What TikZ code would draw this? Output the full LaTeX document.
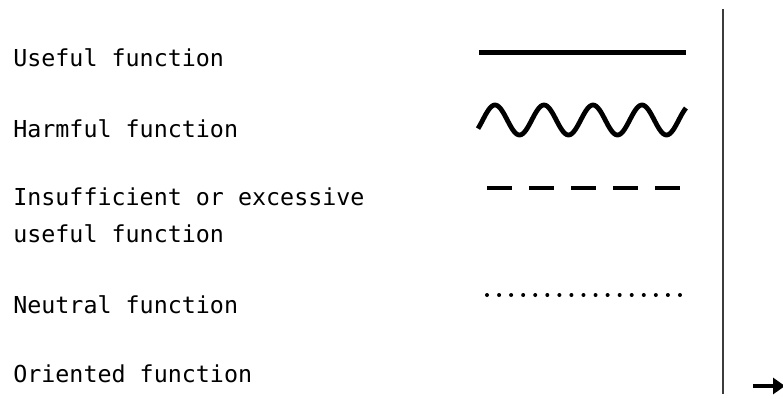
\documentclass[tikz,border=0pt]{standalone}
\usepackage{fontspec}
\setmonofont{DejaVu Sans Mono}
\usetikzlibrary{arrows.meta}
\definecolor{keyink}{HTML}{000000}
\definecolor{ruleink}{HTML}{3C3C3C}

\begin{document}
\begin{tikzpicture}[
  lab/.style={anchor=base west, inner sep=0pt, align=left,
              font=\fontsize{16.6}{26.3}\selectfont\ttfamily},
  useful/.style={draw=keyink, line width=0.125cm},
  harmful/.style={draw=keyink, line width=0.12cm, line join=round},
  lack/.style={draw=keyink, line width=0.12cm, dash pattern=on 0.625cm off 0.425cm},
  neutral/.style={fill=keyink},
  sep/.style={draw=ruleink, line width=0.05cm},
  orient/.style={draw=keyink, line width=0.11cm, -{Triangle[length=0.3cm, width=0.4cm]}},
]
\useasboundingbox (0,0) rectangle (19.575,9.95);
\node[lab] (usefullab)  at (0.325, 8.275) {Useful function};
\node[lab] (harmfullab) at (0.325, 6.525) {Harmful function};
\node[lab] (lacklab)    at (0.325, 3.900) {Insufficient or excessive\\useful function};
\node[lab] (neutrallab) at (0.325, 2.125) {Neutral function};
\node[lab] (orientlab)  at (0.325, 0.400) {Oriented function};
% legend samples
\coordinate (useful-a) at (11.975, 8.65);
\coordinate (useful-b) at (17.15, 8.65);
\draw[useful] (useful-a) -- (useful-b);
\draw[harmful] plot[domain=11.95:17.15, samples=140]
  (\x, {6.95-0.375*cos(360*(\x-11.7625)/1.225)});
\coordinate (lack-a) at (12.175, 5.25);
\coordinate (lack-b) at (17.0, 5.25);
\draw[lack] (lack-a) -- (lack-b);
\foreach \i in {0,...,16}
  \fill[neutral] (12.175+0.3015*\i, 2.575) circle (0.05cm);
% separator and arrow
\coordinate (sep-top) at (18.075, 9.725);
\coordinate (sep-bot) at (18.075, 0.1);
\draw[sep] (sep-top) -- (sep-bot);
\coordinate (orient-a) at (18.825, 0.3);
\coordinate (orient-b) at (19.625, 0.3);
\draw[orient] (orient-a) -- (orient-b);
\end{tikzpicture}
\end{document}
